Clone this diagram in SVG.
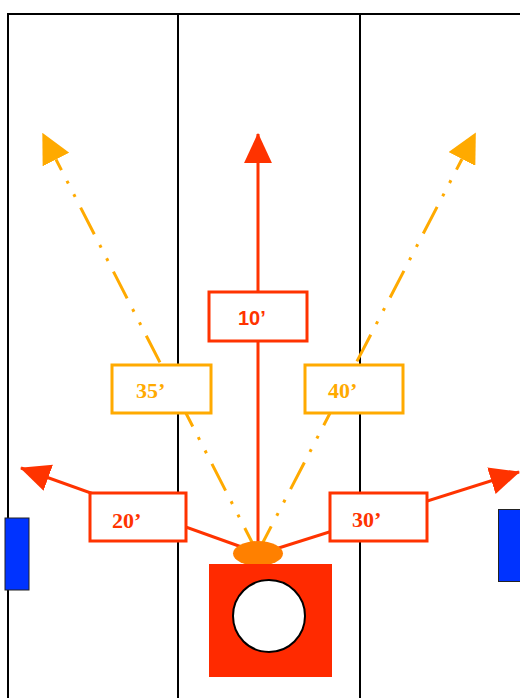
<svg xmlns="http://www.w3.org/2000/svg" width="520" height="698" viewBox="0 0 520 698">
<style>
.lane{stroke:#000;stroke-width:2;fill:none}
.red{stroke:#FF3300;stroke-width:3;fill:none}
.yel{stroke:#FFAA00;stroke-width:3;fill:none;stroke-dasharray:12,12,3,12,3,12,30,12,3,12,3,12,30,12,3,12,3,12,30,12,3,12,3,12,30,12,3,12,3,12,30,12,3,12,3,12,30,12,3,12,3,12}
.rbox{fill:#fff;stroke:#FF3300;stroke-width:3}
.ybox{fill:#fff;stroke:#FFAA00;stroke-width:3}
.tr{font-family:"Liberation Serif",serif;font-weight:bold;font-size:22px;fill:#FF3300}
.ty{font-family:"Liberation Serif",serif;font-weight:bold;font-size:22px;fill:#FFAA00}
.ts{font-family:"Liberation Sans",sans-serif;font-weight:bold;font-size:20px;fill:#FF3300}
</style>
<defs>
<marker id="ar" markerUnits="userSpaceOnUse" markerWidth="30" markerHeight="30" viewBox="0 0 28 26" refX="27" refY="13" orient="auto"><path d="M0,0 L28,13 L0,26 Z" fill="#FF3300"/></marker>
<marker id="ay" markerUnits="userSpaceOnUse" markerWidth="30" markerHeight="30" viewBox="0 0 24 24" refX="0" refY="12" orient="auto-start-reverse"><path d="M0,0 L24,12 L0,24 Z" fill="#FFAA00"/></marker>
</defs>
<g id="lanes">
<path class="lane" d="M8,698 V14 H520 M178,14 V698 M360,14 V698"/>
</g>
<g id="connectors">
<path class="yel" d="M56,159.5 L255,548" marker-start="url(#ay)"/>
<path class="yel" d="M462,159 L260,548" marker-start="url(#ay)"/>
<line class="red" x1="258" y1="548" x2="258" y2="134" marker-end="url(#ar)"/>
<line class="red" x1="250" y1="550" x2="21" y2="468" marker-end="url(#ar)"/>
<line class="red" x1="266" y1="552" x2="519" y2="472" marker-end="url(#ar)"/>
</g>
<g id="n10"><rect class="rbox" x="209" y="292" width="98" height="49"/><text class="ts" x="238" y="325">10’</text></g>
<g id="n35"><rect class="ybox" x="112" y="365" width="99" height="48"/><text class="ty" x="136" y="398">35’</text></g>
<g id="n40"><rect class="ybox" x="305" y="365" width="98" height="48"/><text class="ty" x="328" y="398">40’</text></g>
<g id="n20"><rect class="rbox" x="90" y="493" width="96" height="48"/><text class="tr" x="112" y="528">20’</text></g>
<g id="n30"><rect class="rbox" x="330" y="493" width="97" height="48"/><text class="tr" x="352" y="527">30’</text></g>
<g id="origin"><ellipse cx="258" cy="553.5" rx="25" ry="12.5" fill="#FF8000"/></g>
<g id="base"><rect x="209" y="564" width="123" height="113" fill="#FF2A00"/><circle cx="269" cy="616" r="36" fill="#fff" stroke="#000" stroke-width="2"/></g>
<g id="blueLeft"><rect x="5" y="518" width="24" height="72" fill="#0033FF" stroke="#222" stroke-width="1"/></g>
<g id="blueRight"><rect x="498.5" y="509.5" width="24" height="72" fill="#0033FF" stroke="#222" stroke-width="1"/></g>
</svg>
